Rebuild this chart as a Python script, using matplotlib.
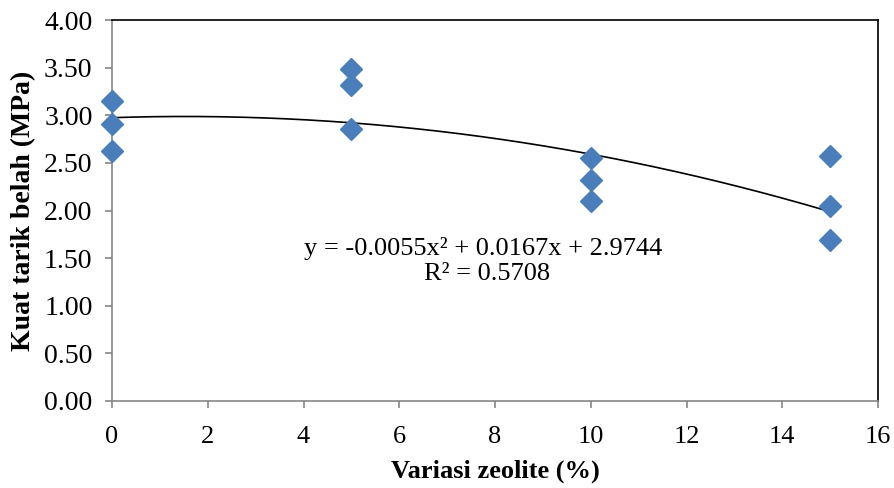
import numpy as np
import matplotlib
matplotlib.use("Agg")
import matplotlib.pyplot as plt

# Data
zeolite = [0, 0, 0, 5, 5, 5, 10, 10, 10, 15, 15, 15]
kuat_tarik = [3.15, 2.91, 2.62, 3.49, 3.32, 2.86, 2.55, 2.32, 2.10, 2.57, 2.05, 1.69]
trend_coef = [-0.0055, 0.0167, 2.9744]
x_ticks = [0, 2, 4, 6, 8, 10, 12, 14, 16]
y_ticks = [0.0, 0.5, 1.0, 1.5, 2.0, 2.5, 3.0, 3.5, 4.0]
eq_line = "y = -0.0055x\u00b2 + 0.0167x + 2.9744"
r2_line = "R\u00b2 = 0.5708"

plt.rcParams['font.family'] = ['Liberation Serif', 'DejaVu Serif']

fig = plt.figure(figsize=(8.94, 4.88), dpi=100)
ax = fig.add_axes([112/894, 87/488, (878-112)/894, (401-20)/488])

xs = np.linspace(0, 15, 200)
ax.plot(xs, np.polyval(trend_coef, xs), color='black', lw=1.2, zorder=2)
ax.plot(zeolite, kuat_tarik, linestyle='none', marker='D', markersize=11,
        color='#4A7EBB', markeredgecolor='#4A7EBB', zorder=3, clip_on=False)

ax.set_xlim(0, 16)
ax.set_ylim(0, 4)
ax.set_xticks(x_ticks)
ax.set_xticklabels([str(v) for v in x_ticks], fontsize=19)
ax.set_yticks(y_ticks)
ax.set_yticklabels([f"{v:.2f}" for v in y_ticks], fontsize=20)

for s in ['left', 'bottom']:
    ax.spines[s].set_color('#868686')
    ax.spines[s].set_linewidth(1.2)
for s in ['top', 'right']:
    ax.spines[s].set_color('black')
    ax.spines[s].set_linewidth(1.2)
ax.tick_params(axis='both', direction='out', length=5, color='#868686', width=1.2)
ax.tick_params(axis='x', pad=13)
ax.tick_params(axis='y', pad=9)

ax.set_xlabel("Variasi zeolite (%)", fontsize=19, fontweight='bold', labelpad=8)
ax.set_ylabel("Kuat tarik belah (MPa)", fontsize=20, fontweight='bold', labelpad=6)

ax.text(7.75, 1.533, eq_line, ha='center', va='baseline', fontsize=19)
ax.text(7.83, 1.27, r2_line, ha='center', va='baseline', fontsize=19)

fig.savefig("out.png", dpi=100)
